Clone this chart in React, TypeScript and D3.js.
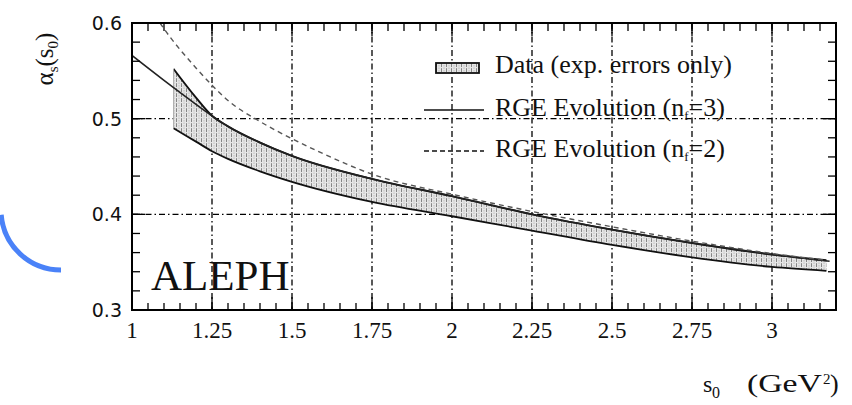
import * as d3 from "d3"

// ALEPH: alpha_s(s0) vs s0
const bandS0 = [1.13, 1.2, 1.25, 1.3, 1.4, 1.5, 1.75, 2, 2.25, 2.5, 2.75, 3, 3.17]
const bandHigh = [0.552, 0.522, 0.503, 0.492, 0.475, 0.461, 0.437, 0.419, 0.4, 0.384, 0.37, 0.358, 0.352]
const bandLow = [0.49, 0.476, 0.466, 0.458, 0.445, 0.434, 0.413, 0.398, 0.383, 0.368, 0.355, 0.345, 0.341]

const rge3S0 = [1, 1.1, 1.2, 1.25, 1.3, 1.4, 1.5, 1.75, 2, 2.25, 2.5, 2.75, 3, 3.18]
const rge3Alpha = [0.566, 0.54, 0.515, 0.503, 0.492, 0.475, 0.461, 0.437, 0.419, 0.4, 0.384, 0.37, 0.358, 0.351]

const rge2S0 = [1.0875, 1.1, 1.2, 1.25, 1.3, 1.4, 1.5, 1.6, 1.75, 2, 2.25, 2.5, 2.75, 3, 3.17]
const rge2Alpha = [0.6, 0.594, 0.553, 0.535, 0.519, 0.497, 0.479, 0.463, 0.442, 0.421, 0.403, 0.387, 0.372, 0.359, 0.352]

const xTicks = [1, 1.25, 1.5, 1.75, 2, 2.25, 2.5, 2.75, 3]
const xTickLabels = ["1", "1.25", "1.5", "1.75", "2", "2.25", "2.5", "2.75", "3"]
const yTicks = [0.3, 0.4, 0.5, 0.6]
const yTickLabels = ["0.3", "0.4", "0.5", "0.6"]
const xGrid = [1.25, 1.5, 1.75, 2, 2.25, 2.5, 2.75, 3]
const yGrid = [0.4, 0.5]

const W = 852
const H = 405
const left = 132
const right = 836
const top = 23
const bottom = 310

const serif = "Liberation Serif, DejaVu Serif, serif"
const sans = "DejaVu Sans, sans-serif"

export default function App() {
  const x = d3.scaleLinear().domain([1, 3.2]).range([left, right])
  const y = d3.scaleLinear().domain([0.3, 0.6]).range([bottom, top])

  const xMinor = d3.range(1, 3.2001, 0.05)
  const yMinor = d3.range(0.3, 0.6001, 0.02)

  const band = bandS0.map((s, i) => ({ s, hi: bandHigh[i], lo: bandLow[i] }))
  const area = d3
    .area<{ s: number; hi: number; lo: number }>()
    .x((d) => x(d.s))
    .y0((d) => y(d.lo))
    .y1((d) => y(d.hi))
    .curve(d3.curveMonotoneX)
  const line = d3
    .line<[number, number]>()
    .x((d) => x(d[0]))
    .y((d) => y(d[1]))
    .curve(d3.curveMonotoneX)

  const hiPath = line(bandS0.map((s, i) => [s, bandHigh[i]]))
  const loPath = line(bandS0.map((s, i) => [s, bandLow[i]]))
  const rge3 = line(rge3S0.map((s, i) => [s, rge3Alpha[i]]))
  const rge2 = line(rge2S0.map((s, i) => [s, rge2Alpha[i]]))

  const gridDash = "6,3,1.5,3"

  return (
    <svg
      width={W}
      height={H}
      style={{ position: "absolute", left: 0, top: 0, background: "#fff" }}
    >
      <defs>
        <pattern id="hatch" width="5" height="5" patternUnits="userSpaceOnUse">
          <rect width="5" height="5" fill="#e6e6e6" />
          <line x1="1.5" y1="0" x2="1.5" y2="5" stroke="#7a7a7a" strokeWidth="0.9" strokeDasharray="2,1.2" />
          <line x1="4" y1="0" x2="4" y2="5" stroke="#aaa" strokeWidth="0.7" strokeDasharray="1.5,1" />
        </pattern>
        <clipPath id="plot">
          <rect x={left} y={top} width={right - left} height={bottom - top} />
        </clipPath>
      </defs>

      {/* blue arc at the left edge */}
      <path
        d={d3.arc()({
          innerRadius: 60,
          outerRadius: 60,
          startAngle: -Math.PI,
          endAngle: -Math.PI / 2 - 0.08,
        }) ?? undefined}
        transform="translate(61,210)"
        fill="none"
        stroke="#4a82f8"
        strokeWidth={5}
      />

      {/* grid */}
      <g stroke="#000" strokeWidth={1.3} strokeDasharray={gridDash}>
        {xGrid.map((v) => (
          <line key={"gx" + v} x1={x(v)} x2={x(v)} y1={top} y2={bottom} />
        ))}
        {yGrid.map((v) => (
          <line key={"gy" + v} x1={left} x2={right} y1={y(v)} y2={y(v)} />
        ))}
      </g>

      {/* curves */}
      <g clipPath="url(#plot)">
        <path d={area(band) ?? undefined} fill="url(#hatch)" stroke="none" />
        <path d={hiPath ?? undefined} fill="none" stroke="#111" strokeWidth={1.9} />
        <path d={loPath ?? undefined} fill="none" stroke="#111" strokeWidth={1.8} />
        <line x1={x(bandS0[0])} x2={x(bandS0[0])} y1={y(bandHigh[0])} y2={y(bandLow[0])} stroke="#aaa" strokeWidth={1} />
        <path d={rge3 ?? undefined} fill="none" stroke="#222" strokeWidth={1.6} />
        <path d={rge2 ?? undefined} fill="none" stroke="#555" strokeWidth={1.4} strokeDasharray="5,4" />
      </g>

      {/* ticks */}
      <g stroke="#000" strokeWidth={1.3}>
        {xMinor.map((v, i) => (
          <g key={"xm" + i}>
            <line x1={x(v)} x2={x(v)} y1={bottom} y2={bottom - 7} />
            <line x1={x(v)} x2={x(v)} y1={top} y2={top + 8} />
          </g>
        ))}
        {xTicks.map((v) => (
          <g key={"xM" + v}>
            <line x1={x(v)} x2={x(v)} y1={bottom} y2={bottom - 13} />
            <line x1={x(v)} x2={x(v)} y1={top} y2={top + 13} />
          </g>
        ))}
        {yMinor.map((v, i) => (
          <g key={"ym" + i}>
            <line x1={left} x2={left + 8} y1={y(v)} y2={y(v)} />
            <line x1={right} x2={right - 8} y1={y(v)} y2={y(v)} />
          </g>
        ))}
        {yTicks.map((v) => (
          <g key={"yM" + v}>
            <line x1={left} x2={left + 13} y1={y(v)} y2={y(v)} />
            <line x1={right} x2={right - 13} y1={y(v)} y2={y(v)} />
          </g>
        ))}
      </g>

      {/* frame */}
      <rect x={left} y={top} width={right - left} height={bottom - top} fill="none" stroke="#000" strokeWidth={2} />

      {/* tick labels */}
      <g fontFamily={serif} fontSize={23} fill="#111" textAnchor="middle">
        {xTicks.map((v, i) => (
          <text key={"xl" + v} x={x(v)} y={bottom + 28}>
            {xTickLabels[i]}
          </text>
        ))}
      </g>
      <g fontFamily={sans} fontSize={19} fill="#111" textAnchor="end">
        {yTicks.map((v, i) => (
          <text key={"yl" + v} x={left - 10} y={y(v) + 7}>
            {yTickLabels[i]}
          </text>
        ))}
      </g>

      {/* axis titles */}
      <text transform="translate(53,59) rotate(-90)" textAnchor="middle" fontFamily={serif} fontSize={25} fill="#111">
        α<tspan fontSize={15} dy={5}>s</tspan>
        <tspan dy={-5}>(s</tspan>
        <tspan fontSize={15} dy={5}>0</tspan>
        <tspan dy={-5}>)</tspan>
      </text>
      <g fontFamily={serif} fill="#111">
        <text x={703} y={392} fontSize={24}>s</text>
        <text x={712} y={398} fontSize={16}>0</text>
        <text x={747} y={392} fontSize={26} textLength={75} lengthAdjust="spacingAndGlyphs">(GeV</text>
        <text x={823} y={384} fontSize={15}>2</text>
        <text x={830} y={392} fontSize={26}>)</text>
      </g>

      {/* ALEPH */}
      <text x={151} y={290} fontFamily={serif} fontSize={43} fill="#111">
        ALEPH
      </text>

      {/* legend */}
      <g fontFamily={serif} fontSize={26} fill="#111">
        <rect x={436} y={63} width={43} height={10} fill="url(#hatch)" stroke="#111" strokeWidth={1.8} />
        <text x={495} y={73}>Data (exp. errors only)</text>
        <line x1={424} x2={484} y1={110} y2={110} stroke="#111" strokeWidth={1.6} />
        <text x={495} y={116}>
          RGE Evolution (n<tspan fontSize={13} dy={4}>f</tspan>
          <tspan dy={-4}>=3)</tspan>
        </text>
        <line x1={424} x2={484} y1={151} y2={151} stroke="#111" strokeWidth={1.6} strokeDasharray="5,3" />
        <text x={495} y={157}>
          RGE Evolution (n<tspan fontSize={13} dy={4}>f</tspan>
          <tspan dy={-4}>=2)</tspan>
        </text>
      </g>
    </svg>
  )
}
